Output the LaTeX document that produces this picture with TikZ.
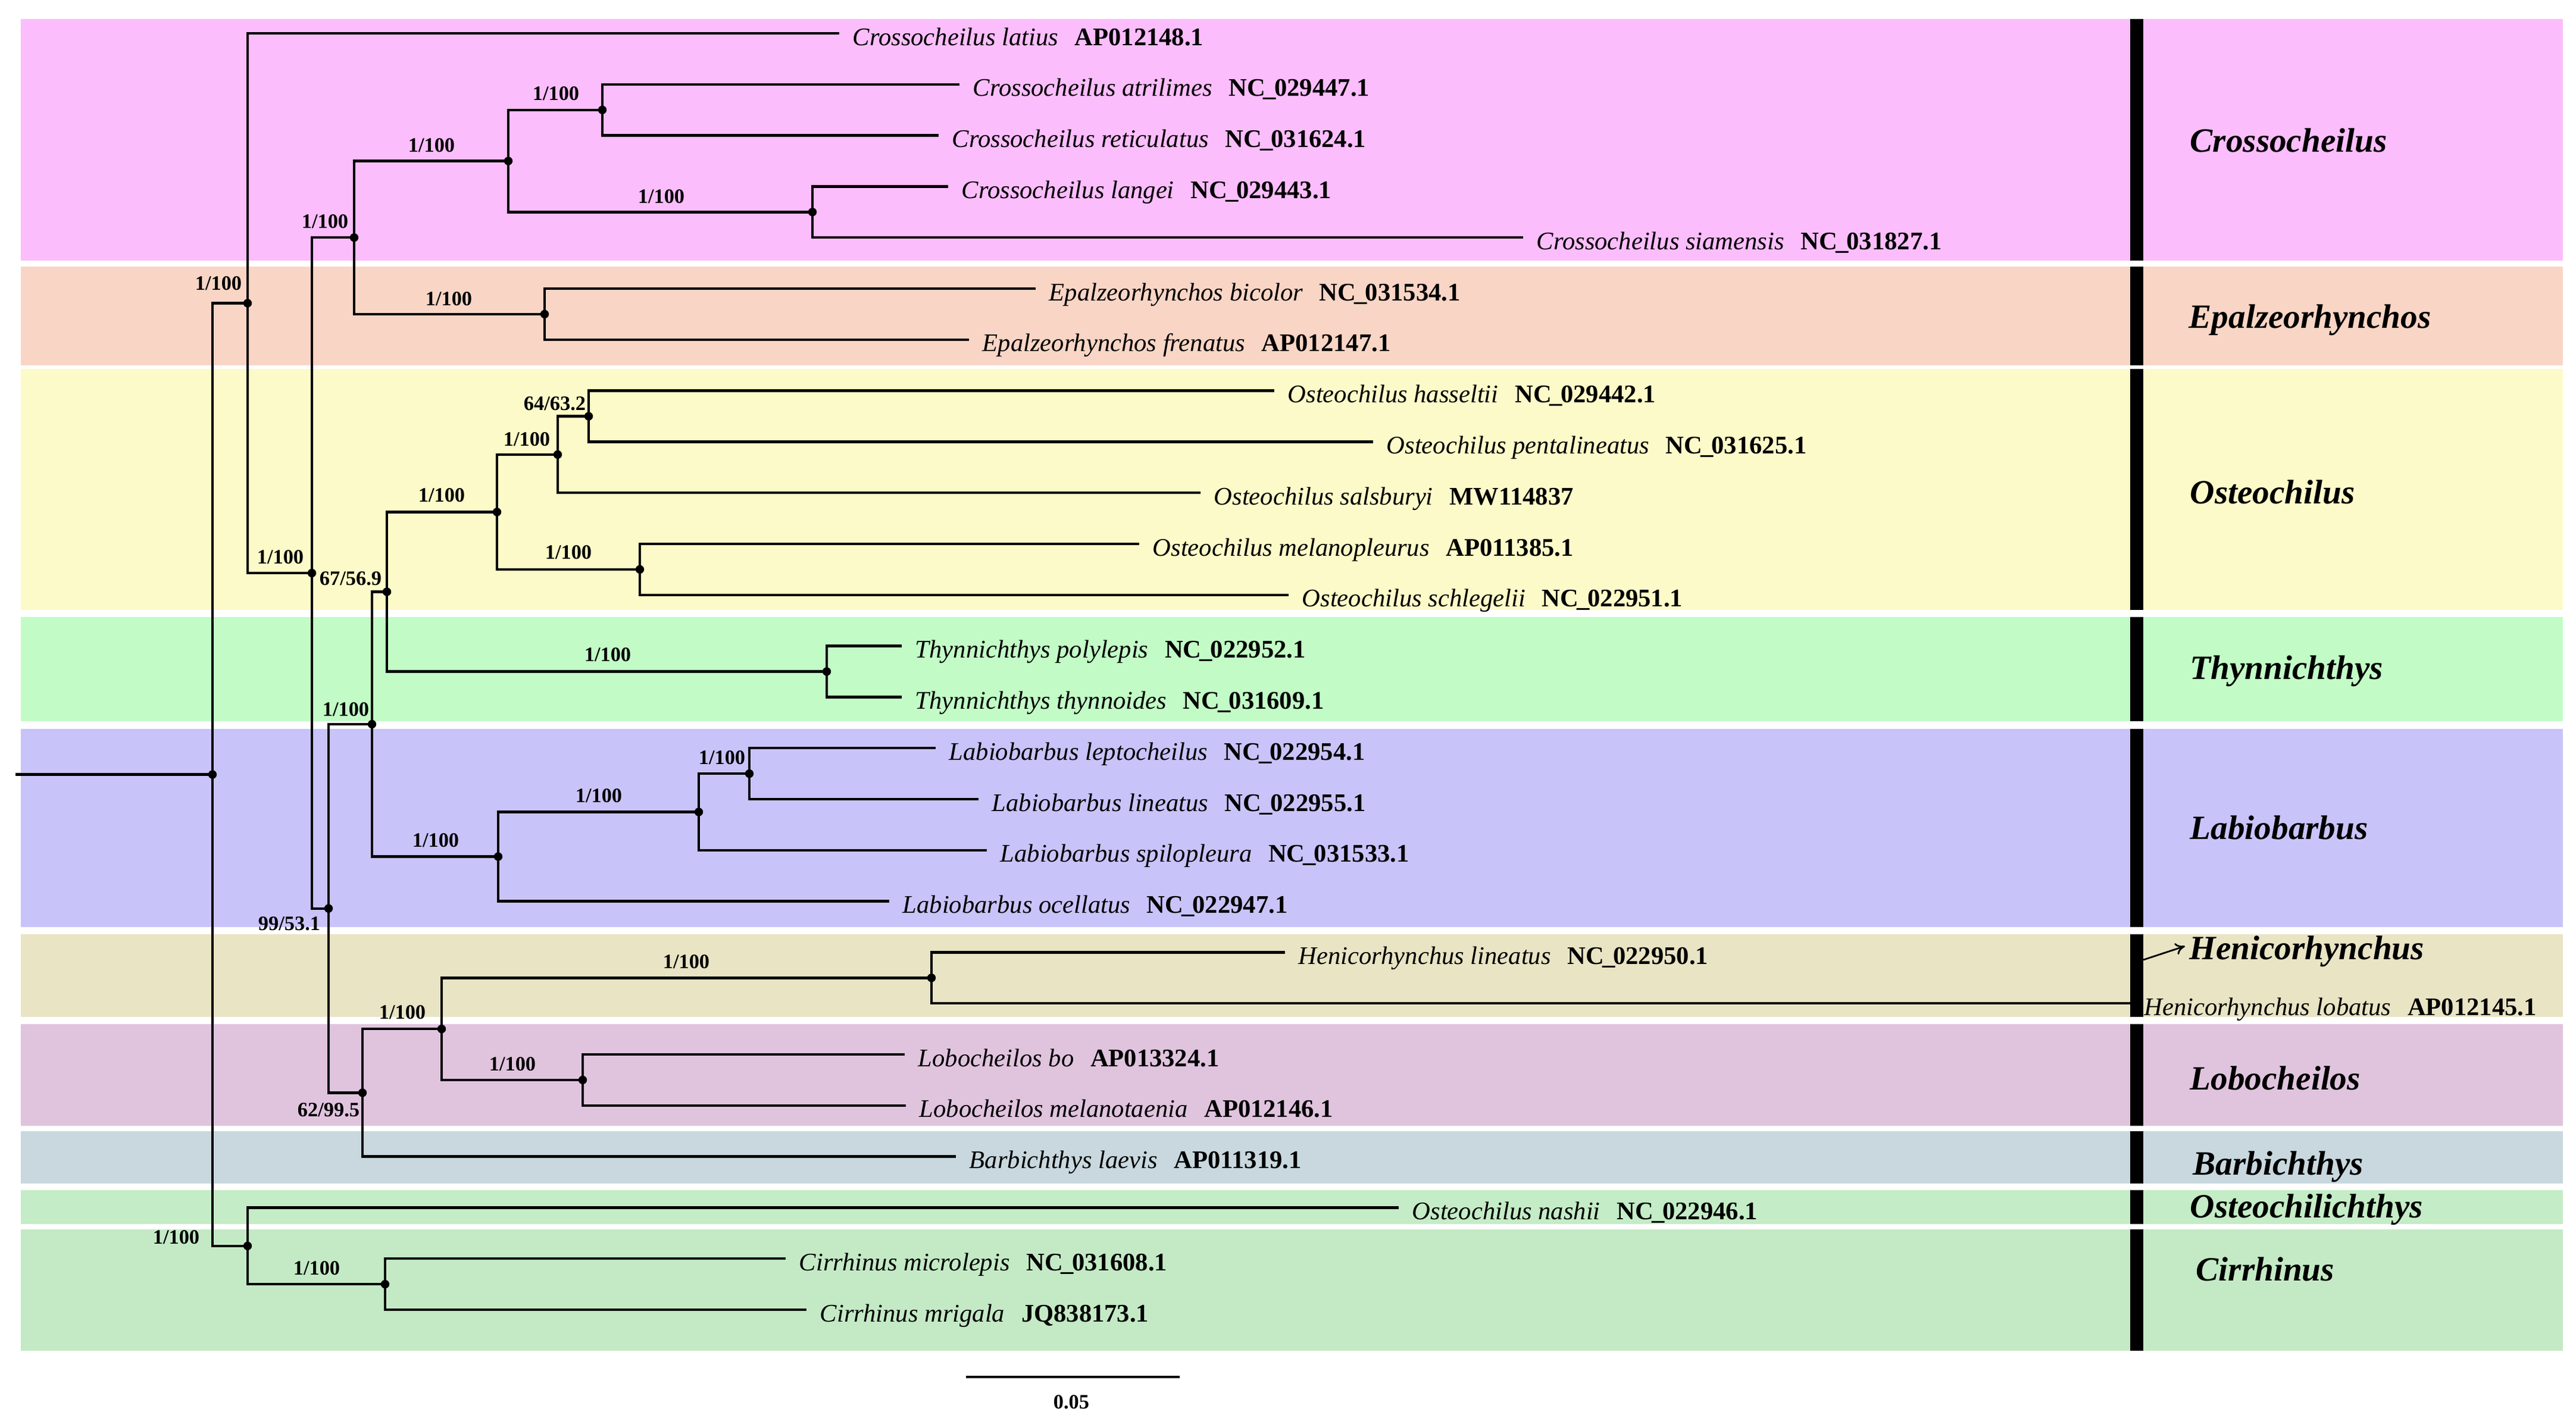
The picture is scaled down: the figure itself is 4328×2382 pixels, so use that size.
\documentclass[tikz,border=0pt]{standalone}
\usepackage{fontspec}
\setmainfont{Liberation Serif}
\usetikzlibrary{arrows.meta}
\definecolor{cpink}{RGB}{251,189,251}
\definecolor{cpeach}{RGB}{249,213,197}
\definecolor{cyellow}{RGB}{252,250,200}
\definecolor{cthyn}{RGB}{194,251,198}
\definecolor{clabio}{RGB}{200,196,250}
\definecolor{cheni}{RGB}{232,228,196}
\definecolor{clobo}{RGB}{224,196,222}
\definecolor{cbarb}{RGB}{200,216,222}
\definecolor{costeo}{RGB}{196,236,198}
\definecolor{ccirr}{RGB}{196,234,197}
\newcommand{\us}{\kern-0.07em\_\kern-0.07em}
\newcommand{\myleaf}[5]{%
  \coordinate (#1) at (#2,#3);
  \node[leaflab] (#1lab) at (#2+22,#3+20) {\textit{#4}\hspace{0.65em}\textbf{#5}};
}
\begin{document}
\begin{tikzpicture}[x=0.25pt,y=-0.25pt,
  branch/.style={line width=1.1pt,black},
  suplab/.style={font=\fontsize{8.6}{10}\selectfont\bfseries,anchor=base,inner sep=0pt},
  leaflab/.style={font=\fontsize{10.65}{13}\selectfont,anchor=base west,inner sep=0pt},
  cladelab/.style={font=\fontsize{14.3}{17}\selectfont\bfseries\itshape,anchor=base west,inner sep=0pt},
  nodedot/.style={fill=black}]
\useasboundingbox (0,0) rectangle (4328,2382);
\fill[white] (0,0) rectangle (4328,2382);
% bands
\fill[cpink]   (35,32)   rectangle (4306,438);
\fill[cpeach]  (35,448)  rectangle (4306,614);
\fill[cyellow] (35,620)  rectangle (4306,1025);
\fill[cthyn]   (35,1037) rectangle (4306,1212);
\fill[clabio]  (35,1225) rectangle (4306,1558);
\fill[cheni]   (35,1570) rectangle (4306,1709);
\fill[clobo]   (35,1721) rectangle (4306,1892);
\fill[cbarb]   (35,1901) rectangle (4306,1989);
\fill[costeo]  (35,2000) rectangle (4306,2057);
\fill[ccirr]   (35,2066) rectangle (4306,2270);
% black bars
\foreach \a/\b in {32/438,448/614,620/1025,1037/1212,1225/1558,1570/1709,1721/1892,1901/1989,2000/2057,2066/2270}
  \fill[black] (3579,\a) rectangle (3601,\b);
% leaves
\myleaf{t0}{1410}{56}{Crossocheilus latius}{AP012148.1}
\myleaf{t1}{1612}{141.8}{Crossocheilus atrilimes}{NC\us029447.1}
\myleaf{t2}{1577}{227.6}{Crossocheilus reticulatus}{NC\us031624.1}
\myleaf{t3}{1593}{313.4}{Crossocheilus langei}{NC\us029443.1}
\myleaf{t4}{2559}{399.2}{Crossocheilus siamensis}{NC\us031827.1}
\myleaf{t5}{1740}{485}{Epalzeorhynchos bicolor}{NC\us031534.1}
\myleaf{t6}{1628}{570.8}{Epalzeorhynchos frenatus}{AP012147.1}
\myleaf{t7}{2141}{656.6}{Osteochilus hasseltii}{NC\us029442.1}
\myleaf{t8}{2307}{742.4}{Osteochilus pentalineatus}{NC\us031625.1}
\myleaf{t9}{2017}{828.2}{Osteochilus salsburyi}{MW114837}
\myleaf{t10}{1914}{914}{Osteochilus melanopleurus}{AP011385.1}
\myleaf{t11}{2165}{999.8}{Osteochilus schlegelii}{NC\us022951.1}
\myleaf{t12}{1515}{1085.6}{Thynnichthys polylepis}{NC\us022952.1}
\myleaf{t13}{1515}{1171.4}{Thynnichthys thynnoides}{NC\us031609.1}
\myleaf{t14}{1572}{1257.2}{Labiobarbus leptocheilus}{NC\us022954.1}
\myleaf{t15}{1644}{1343}{Labiobarbus lineatus}{NC\us022955.1}
\myleaf{t16}{1658}{1428.8}{Labiobarbus spilopleura}{NC\us031533.1}
\myleaf{t17}{1494}{1514.6}{Labiobarbus ocellatus}{NC\us022947.1}
\myleaf{t18}{2159}{1600.4}{Henicorhynchus lineatus}{NC\us022950.1}
\myleaf{t19}{3580}{1686.2}{Henicorhynchus lobatus}{AP012145.1}
\myleaf{t20}{1520}{1772}{Lobocheilos bo}{AP013324.1}
\myleaf{t21}{1522}{1857.8}{Lobocheilos melanotaenia}{AP012146.1}
\myleaf{t22}{1606}{1943.6}{Barbichthys laevis}{AP011319.1}
\myleaf{t23}{2350}{2029.4}{Osteochilus nashii}{NC\us022946.1}
\myleaf{t24}{1320}{2115.2}{Cirrhinus microlepis}{NC\us031608.1}
\myleaf{t25}{1355}{2201}{Cirrhinus mrigala}{JQ838173.1}
% internal nodes
\coordinate (stem) at (26,1301.6);
\coordinate (R) at (357,1301.6);
\coordinate (A) at (416,509.5);
\coordinate (B) at (524,963);
\coordinate (D) at (595,399.2);
\coordinate (E) at (854,270.5);
\coordinate (F) at (1012,184.7);
\coordinate (G) at (1365,356.3);
\coordinate (H) at (915,527.9);
\coordinate (N99) at (552,1526.7);
\coordinate (N1216) at (625,1217);
\coordinate (N67) at (650,994.5);
\coordinate (O) at (835,860.4);
\coordinate (Q) at (937,763.9);
\coordinate (P) at (989,699.5);
\coordinate (S) at (1075,956.9);
\coordinate (T) at (1389,1128.5);
\coordinate (W) at (837,1439.5);
\coordinate (V) at (1174,1364.5);
\coordinate (U) at (1259,1300.1);
\coordinate (N62) at (609,1836.4);
\coordinate (X) at (742,1729.1);
\coordinate (Hn) at (1565,1643.3);
\coordinate (Lb) at (979,1814.9);
\coordinate (Z) at (416,2093.8);
\coordinate (Ci) at (647,2158.1);
% branches
\draw[branch] (stem) -- (R);
\foreach \p/\c in {R/A,R/Z,A/t0,A/B,B/D,B/N99,D/E,D/H,E/F,E/G,F/t1,F/t2,G/t3,G/t4,H/t5,H/t6,
  N99/N1216,N99/N62,N1216/N67,N1216/W,N67/O,N67/T,O/Q,O/S,Q/P,Q/t9,P/t7,P/t8,S/t10,S/t11,T/t12,T/t13,
  W/V,W/t17,V/U,V/t16,U/t14,U/t15,N62/X,N62/t22,X/Hn,X/Lb,Hn/t18,Hn/t19,Lb/t20,Lb/t21,Z/t23,Z/Ci,Ci/t24,Ci/t25}
  \draw[branch] (\p) |- (\c);
\foreach \n in {R,A,B,D,E,F,G,H,N99,N1216,N67,O,Q,P,S,T,W,V,U,N62,X,Hn,Lb,Z,Ci}
  \fill[nodedot] (\n) circle[radius=1.8pt];
% support values
\node[suplab] (sA) at (367,487) {1/100};
\node[suplab] (sB) at (471,947) {1/100};
\node[suplab] (sD) at (546,383) {1/100};
\node[suplab] (sE) at (725,255) {1/100};
\node[suplab] (sF) at (934,168) {1/100};
\node[suplab] (sG) at (1111,341) {1/100};
\node[suplab] (sH) at (754,513) {1/100};
\node[suplab] (sP) at (932,689) {64/63.2};
\node[suplab] (sQ) at (885,749) {1/100};
\node[suplab] (sO) at (742,843) {1/100};
\node[suplab] (sS) at (955,939) {1/100};
\node[suplab] (sT) at (1021,1111) {1/100};
\node[suplab] (sN67) at (589,983) {67/56.9};
\node[suplab] (sN1216) at (581,1203) {1/100};
\node[suplab] (sW) at (732,1423) {1/100};
\node[suplab] (sV) at (1006,1348) {1/100};
\node[suplab] (sU) at (1213,1284) {1/100};
\node[suplab] (sN99) at (486,1563) {99/53.1};
\node[suplab] (sN62) at (552,1876) {62/99.5};
\node[suplab] (sX) at (676,1712) {1/100};
\node[suplab] (sHn) at (1153,1627) {1/100};
\node[suplab] (sLb) at (861,1799) {1/100};
\node[suplab] (sZ) at (296,2090) {1/100};
\node[suplab] (sCi) at (532,2142) {1/100};
% clade names
\node[cladelab] (gC) at (3679,255) {Crossocheilus};
\node[cladelab] (gE) at (3677,551) {Epalzeorhynchos};
\node[cladelab] (gO) at (3679,846) {Osteochilus};
\node[cladelab] (gT) at (3679,1141) {Thynnichthys};
\node[cladelab] (gL) at (3679,1410) {Labiobarbus};
\node[cladelab] (gH) at (3678,1612) {Henicorhynchus};
\node[cladelab] (gLo) at (3679,1831) {Lobocheilos};
\node[cladelab] (gB) at (3684,1974) {Barbichthys};
\node[cladelab] (gOs) at (3679,2046) {Osteochilichthys};
\node[cladelab] (gCi) at (3689,2152) {Cirrhinus};
% arrow to Henicorhynchus
\coordinate (arS) at (3601,1613);
\coordinate (arE) at (3671,1590);
\draw[line width=0.7pt,-{To[length=4pt,width=5pt]}] (arS) -- (arE);
% scale bar
\coordinate (sb1) at (1623,2314);
\coordinate (sb2) at (1982,2314);
\draw[branch] (sb1) -- (sb2);
\node[suplab] (sbl) at (1800,2367) {0.05};
\end{tikzpicture}
\end{document}
